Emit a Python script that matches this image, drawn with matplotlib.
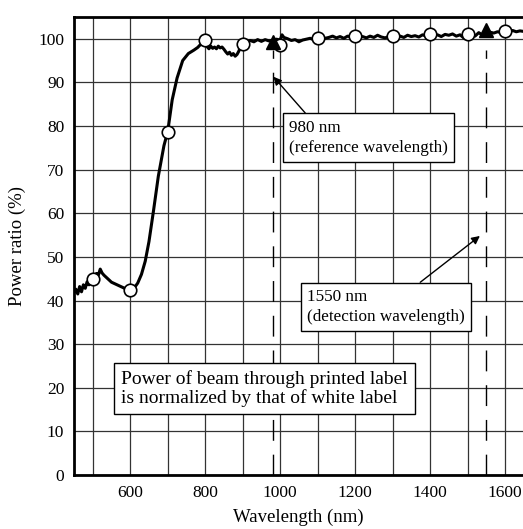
import matplotlib.pyplot as plt

plt.rcParams['font.family'] = ['Liberation Serif', 'DejaVu Serif']

# measured power ratio of beam through printed label
wavelength = [450, 455, 460, 465, 470, 475, 480, 485, 490, 495, 500, 505, 510, 515, 520,
              525, 530, 540, 550, 560, 570, 580, 590, 600, 610, 620, 630, 640, 650,
              662, 675, 690, 700, 712, 725, 740, 755, 770, 780, 790, 800, 805, 810,
              815, 820, 825, 830, 835, 840, 845, 850, 855, 860, 865, 870, 875, 880,
              885, 890, 895, 900, 905, 910, 920, 930, 940, 950, 960, 970, 980, 990,
              1000, 1005, 1010, 1020, 1030, 1040, 1050, 1060, 1070, 1080, 1090, 1100,
              1110, 1120, 1130, 1140, 1150, 1160, 1170, 1180, 1190, 1200, 1210, 1220,
              1230, 1240, 1250, 1260, 1270, 1280, 1290, 1300, 1310, 1320, 1330, 1340,
              1350, 1360, 1370, 1380, 1390, 1400, 1410, 1420, 1430, 1440, 1450, 1460,
              1470, 1480, 1490, 1500, 1510, 1520, 1530, 1540, 1550, 1560, 1570, 1580,
              1590, 1600, 1610, 1620, 1630, 1640, 1648]
power = [41.8, 42.6, 41.5, 43.2, 42.0, 43.6, 42.8, 44.3, 43.6, 44.8, 45.0, 45.6, 46.2, 45.8, 47.2,
         46.3, 45.8, 45.0, 44.2, 43.8, 43.4, 43.0, 42.6, 42.3, 42.8, 44.0, 46.0, 49.0, 53.5,
         60.5, 68.5, 75.5, 78.7, 86.0, 91.0, 95.0, 96.6, 97.4, 98.0, 98.9, 99.6, 98.2, 97.7,
         98.3, 97.8, 98.1, 97.7, 98.3, 97.9, 98.1, 97.6, 97.0, 96.5, 96.9, 96.2, 96.6, 96.0,
         96.4, 97.2, 98.4, 98.9, 99.4, 99.1, 99.6, 99.3, 99.8, 99.4, 99.8, 99.5, 99.6, 99.9,
         99.7, 100.9, 100.3, 100.0, 99.6, 99.8, 99.3, 99.7, 99.9, 100.1, 99.8, 100.2,
         100.4, 100.1, 100.3, 100.6, 100.2, 100.5, 100.1, 100.6, 100.4, 100.7, 100.3, 100.5,
         100.2, 100.6, 100.3, 100.8, 100.4, 100.2, 100.5, 100.7, 100.4, 100.6, 100.3, 100.8,
         100.5, 100.7, 100.4, 100.9, 100.6, 101.2, 100.7, 100.9, 100.5, 101.0, 100.8, 101.1,
         100.6, 100.9, 100.2, 101.2, 101.0, 100.6, 101.4, 100.8, 101.1, 101.5, 101.3, 101.6,
         101.4, 101.8, 101.5, 101.9, 101.6, 101.8, 101.7]

# sample points marked with circles
circle_x = [500, 600, 700, 800, 900, 1000, 1100, 1200, 1300, 1400, 1500, 1600]
circle_y = [45.0, 42.3, 78.7, 99.8, 98.7, 98.5, 100.2, 100.6, 100.6, 101.2, 101.2, 101.8]

# reference and detection wavelengths
marker_x = [980, 1550]
marker_y = [99.2, 101.9]

fig = plt.figure(figsize=(5.23, 5.29), dpi=100)
ax = fig.add_axes([0.1415, 0.102, 0.8585, 0.866])

ax.set_xlim(450, 1648)
ax.set_ylim(0, 105)
ax.set_xticks(range(500, 1700, 100), minor=True)
ax.set_xticks(range(600, 1700, 200))
ax.set_yticks(range(0, 101, 10))
ax.grid(True, which='both', color='#333333', lw=0.9)
ax.set_axisbelow(True)
ax.tick_params(which='both', length=0, labelsize=12.5, pad=7)

for side in ['left', 'bottom', 'top']:
    ax.spines[side].set_linewidth(2)
ax.spines['right'].set_visible(False)

for x in marker_x:
    ax.plot([x, x], [0, 97.5], color='black', lw=1, dashes=(15, 10), zorder=3)

ax.plot(wavelength, power, color='black', lw=2.2, zorder=4)
ax.plot(circle_x, circle_y, 'o', ms=9, mfc='white', mec='black', mew=1.2, zorder=5)
ax.plot(marker_x, marker_y, '^', ms=10, color='black', zorder=5)

box = dict(boxstyle='square,pad=0.38', fc='white', ec='black', lw=1)
ax.annotate('980 nm\n(reference wavelength)', xy=(982, 91.3), xytext=(1024, 77.3),
            fontsize=12.3, va='center', ha='left', linespacing=1.3, bbox=box, zorder=6,
            arrowprops=dict(arrowstyle='-|>', color='black', lw=1, shrinkA=0, shrinkB=0,
                            mutation_scale=12, relpos=(0.14, 1.0)))
ax.annotate('1550 nm\n(detection wavelength)', xy=(1533, 54.8), xytext=(1072, 38.5),
            fontsize=12.3, va='center', ha='left', linespacing=1.3, bbox=box, zorder=6,
            arrowprops=dict(arrowstyle='-|>', color='black', lw=1, shrinkA=0, shrinkB=0,
                            mutation_scale=12, relpos=(0.66, 1.0)))
ax.text(576, 19.8, 'Power of beam through printed label\nis normalized by that of white label',
        fontsize=14.0, va='center', ha='left', linespacing=1.12,
        bbox=dict(boxstyle='square,pad=0.35', fc='white', ec='black', lw=1), zorder=6)

ax.set_xlabel('Wavelength (nm)', fontsize=13.5, labelpad=6)
ax.set_ylabel('Power ratio (%)', fontsize=13.5, labelpad=9)

plt.savefig('out.png', dpi=100)
